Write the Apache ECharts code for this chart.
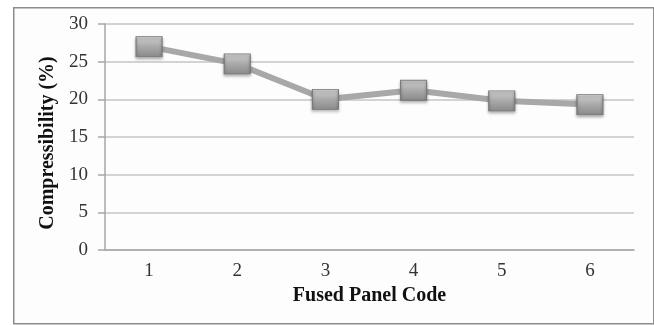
<!DOCTYPE html>
<html>
<head>
<meta charset="utf-8">
<script src="https://cdn.jsdelivr.net/npm/echarts@6/dist/echarts.min.js"></script>
<style>html,body{margin:0;padding:0;background:#fff;}#c{width:654px;height:325px;}</style>
</head>
<body>
<div id="c"></div>
<script>
const categories = ['1', '2', '3', '4', '5', '6'];
const compressibility = [27.0, 24.7, 20.0, 21.2, 19.8, 19.3];
const yTicks = [0, 5, 10, 15, 20, 25, 30];

const chart = echarts.init(document.getElementById('c'));
const font = 'Liberation Serif';
chart.setOption({
  animation: false,
  backgroundColor: '#ffffff',
  graphic: [{
    type: 'rect', left: 13, top: 7, z: -10,
    shape: {width: 640, height: 316},
    style: {fill: '#fdfdfd', stroke: '#8c8c8c', lineWidth: 1.5}
  }],
  grid: {left: 105, right: 20, top: 24, bottom: 75},
  xAxis: {
    type: 'category',
    data: categories,
    boundaryGap: true,
    name: 'Fused Panel Code',
    nameLocation: 'middle',
    nameGap: 36,
    nameTextStyle: {fontFamily: font, fontWeight: 'bold', fontSize: 20, color: '#111'},
    axisLine: {lineStyle: {color: '#a6a6a6', width: 1.5}},
    axisTick: {show: false},
    axisLabel: {fontFamily: font, fontSize: 19, color: '#333', margin: 12}
  },
  yAxis: {
    type: 'value',
    min: yTicks[0], max: yTicks[yTicks.length - 1], interval: 5,
    name: 'Compressibility (%)',
    nameLocation: 'middle',
    nameGap: 45,
    nameTextStyle: {fontFamily: font, fontWeight: 'bold', fontSize: 20, color: '#111', padding: [0, 12, 0, 0]},
    axisLine: {show: true, lineStyle: {color: '#a6a6a6', width: 1.5}},
    axisTick: {show: true, length: 7, lineStyle: {color: '#a6a6a6', width: 1.5}},
    axisLabel: {fontFamily: font, fontSize: 19, color: '#333', margin: 17},
    splitLine: {lineStyle: {color: '#c4c4c4', width: 1.5}}
  },
  series: [{
    type: 'line',
    data: compressibility,
    lineStyle: {color: '#a8a8a8', width: 6},
    symbol: 'rect',
    symbolSize: [26, 20],
    itemStyle: {
      color: {
        type: 'linear', x: 0, y: 0, x2: 0, y2: 1,
        colorStops: [
          {offset: 0, color: '#d2d2d2'},
          {offset: 0.5, color: '#a9a9a9'},
          {offset: 1, color: '#8a8a8a'}
        ]
      },
      borderColor: '#7a7a7a',
      borderWidth: 1,
      shadowColor: 'rgba(0,0,0,0.35)',
      shadowBlur: 3,
      shadowOffsetY: 2
    }
  }]
});
</script>
</body>
</html>
